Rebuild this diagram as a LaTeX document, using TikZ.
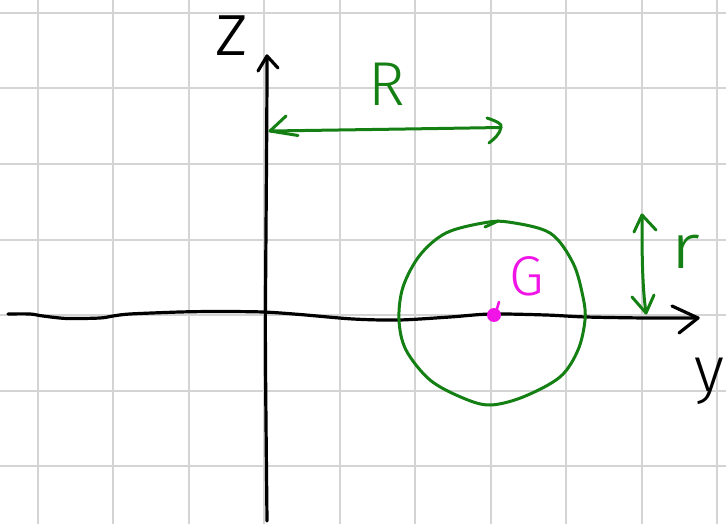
\documentclass[tikz,border=0pt]{standalone}
\usepackage{fontspec}
\newfontfamily\hand{Fira Sans Light}
\definecolor{gridgray}{RGB}{212,212,212}
\definecolor{pengreen}{RGB}{20,128,20}
\definecolor{penmag}{RGB}{240,20,230}
\begin{document}
\begin{tikzpicture}[x=1pt,y=-1pt,line cap=round,line join=round,
  gridline/.style={draw=gridgray,line width=2pt,line cap=butt},
  axisline/.style={draw=black,line width=3.2pt},
  greenline/.style={draw=pengreen,line width=3pt},
  lbl/.style={inner sep=0pt,anchor=center}]
\useasboundingbox (0,0) rectangle (726,524);
\fill[white] (0,0) rectangle (726,524);
% grid
\foreach \gx in {37.5,113,188.5,264,339.5,415,490.5,566,641.5,717}
  \draw[gridline] (\gx,0) -- (\gx,524);
\foreach \gy in {13,88.5,164,239.5,315,390.5,466}
  \draw[gridline] (0,\gy) -- (726,\gy);
% z axis
\coordinate (zbot) at (267,521);
\coordinate (ztip) at (267,56);
\draw[axisline] (zbot) .. controls (266,420) and (265,340) .. (265.5,300)
  .. controls (266,220) and (267,120) .. (ztip);
\draw[axisline] (258,71) -- (ztip) -- (278,68);
% y axis
\coordinate (ystart) at (8,314);
\coordinate (ytip) at (698,318);
\draw[axisline] plot[smooth,tension=0.5] coordinates {(ystart) (30,314) (43,316) (67,318.5) (100,318) (113,316) (130,314) (180,312) (217,311.5) (263,312) (300,314.5) (353,319) (399,320) (450,317) (491,314) (546,315) (586,317) (646,318) (ytip)};
\draw[axisline] (672,306) -- (ytip) -- (679,333);
% R arrow
\coordinate (Rl) at (270,131);
\coordinate (Rr) at (501,127.5);
\draw[greenline] (Rl) .. controls (340,130) and (440,128.5) .. (Rr);
\draw[greenline] (286,116) -- (Rl) -- (298,135.5);
\draw[greenline] (487,118) .. controls (496,121) and (503,124) .. (Rr) .. controls (500,134) and (494,139) .. (489,143);
% r arrow
\coordinate (rt) at (642,215);
\coordinate (rb) at (646,313);
\draw[greenline] (rt) .. controls (642,250) and (642,285) .. (rb);
\draw[greenline] (634,232) -- (rt) -- (656,230);
\draw[greenline] (632,297) -- (rb) -- (654,295);
% circle
\draw[greenline] plot[smooth cycle,tension=0.55] coordinates {(508,222) (550,233) (573,263) (583,297) (585,320) (578,350) (560,377) (523,397) (490,405) (463,398) (430,380) (406,350) (399,320) (403,287) (420,255) (446,233) (483,223)};
\draw[greenline] (485,227) -- (498,221);
% centre G
\coordinate (G) at (494,315);
\fill[penmag] (G) circle (7);
\draw[penmag,line width=2.6pt] (496,312) -- (499,302);
% labels
\node[lbl,font=\hand\fontsize{76}{76}\selectfont] (zlab) at (232,36) {z};
\node[lbl,font=\hand\fontsize{64}{64}\selectfont] (ylab) at (709,381) {y};
\node[lbl,font=\hand\fontsize{62}{62}\selectfont,text=pengreen] (Rlab) at (387,84) {R};
\node[lbl,font=\hand\fontsize{50}{50}\selectfont,text=pengreen] (rlab) at (685,252) {\scalebox{1.6}[1.25]{r}};
\node[lbl,font=\hand\fontsize{56}{56}\selectfont,text=penmag] (Glab) at (527,276) {G};
\end{tikzpicture}
\end{document}
